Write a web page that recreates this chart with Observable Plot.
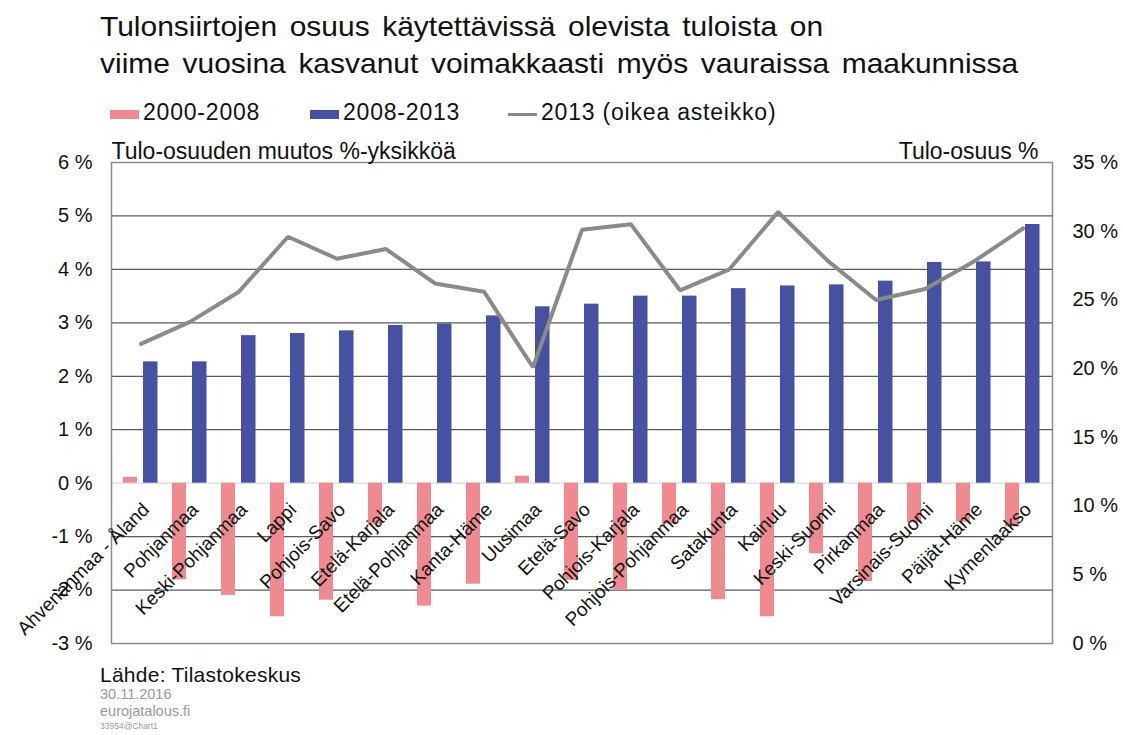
<!DOCTYPE html>
<html>
<head>
<meta charset="utf-8">
<script src="https://cdn.jsdelivr.net/npm/d3@7"></script>
<script src="https://cdn.jsdelivr.net/npm/@observablehq/plot@0.6"></script>
<style>
  body { margin: 0; background: #fff; font-family: "Liberation Sans", Arial, sans-serif; }
  #wrap { position: relative; width: 1123px; height: 735px; overflow: hidden; }
  #title { position: absolute; left: 100px; top: 8px; font-size: 28px; line-height: 37px; color: #111; word-spacing: 4px; transform: scaleX(1.07); transform-origin: 0 0; white-space: nowrap; }
  #legend { position: absolute; left: 0; top: 99px; width: 1123px; height: 34px; font-size: 23px; color: #111; }
  .li { position: absolute; top: 0; letter-spacing: 0.8px; }
  .sw { position: absolute; }
  #chart { position: absolute; left: 0; top: 135px; }
  #cap { position: absolute; left: 100px; top: 663px; }
  #cap .src { font-size: 21px; color: #111; line-height: 23px; letter-spacing: 0.25px; }
  #cap .g { font-size: 14.5px; color: #999; line-height: 17px; }
  #cap .s { font-size: 8.5px; color: #999; line-height: 12px; }
</style>
</head>
<body>
<div id="wrap">
  <div id="title">Tulonsiirtojen osuus käytettävissä olevista tuloista on<br>viime vuosina kasvanut voimakkaasti myös vauraissa maakunnissa</div>
  <div id="legend"></div>
  <div id="chart"></div>
  <div id="cap">
    <div class="src">Lähde: Tilastokeskus</div>
    <div class="g">30.11.2016</div>
    <div class="g">eurojatalous.fi</div>
    <div class="s">33954@Chart1</div>
  </div>
</div>
<script>
// Data
const regions = ["Ahvenanmaa - Åland","Pohjanmaa","Keski-Pohjanmaa","Lappi","Pohjois-Savo","Etelä-Karjala","Etelä-Pohjanmaa","Kanta-Häme","Uusimaa","Etelä-Savo","Pohjois-Karjala","Pohjois-Pohjanmaa","Satakunta","Kainuu","Keski-Suomi","Pirkanmaa","Varsinais-Suomi","Päijät-Häme","Kymenlaakso"];
const change2000_2008 = [0.11,-1.81,-2.10,-2.50,-2.19,-0.78,-2.30,-1.89,0.13,-1.82,-2.00,-0.77,-2.18,-2.50,-1.32,-1.84,-0.74,-0.73,-0.82];
const change2008_2013 = [2.27,2.27,2.76,2.80,2.85,2.95,2.98,3.13,3.30,3.35,3.50,3.50,3.64,3.69,3.71,3.78,4.13,4.14,4.84];
const share2013 = [21.8,23.4,25.6,29.6,28.0,28.7,26.2,25.6,20.1,30.1,30.5,25.7,27.2,31.4,27.9,25.0,25.8,27.8,30.2];
const leftTicks = [-3,-2,-1,0,1,2,3,4,5,6];
const rightTicks = [0,5,10,15,20,25,30,35];
const seriesNames = ["2000-2008","2008-2013","2013 (oikea asteikko)"];
const leftTitle = "Tulo-osuuden muutos %-yksikköä";
const rightTitle = "Tulo-osuus %";

const PINK = "#EF8A90", BLUE = "#4751A1", GRAY = "#8a8a8a";
const FONT = "'Liberation Sans', Arial, sans-serif";

// map right axis (0..35) onto left axis (-3..6)
const toLeft = v => -3 + v * 9 / 35;
const toRight = y => Math.round((y + 3) * 35 / 9);

const rows = regions.map((r, i) => ({r, a: change2000_2008[i], b: change2008_2013[i], s: toLeft(share2013[i])}));

// legend
const lg = document.getElementById("legend");
const legendItems = [
  {x: 110, color: PINK, kind: "box"},
  {x: 310, color: BLUE, kind: "box"},
  {x: 508, color: GRAY, kind: "line"}
];
legendItems.forEach((it, i) => {
  const sw = document.createElement("div");
  sw.className = "sw";
  sw.style.left = it.x + "px";
  sw.style.width = "29px";
  sw.style.background = it.color;
  if (it.kind === "box") { sw.style.top = "11px"; sw.style.height = "9px"; }
  else { sw.style.top = "14px"; sw.style.height = "3px"; }
  lg.appendChild(sw);
  const t = document.createElement("div");
  t.className = "li";
  t.style.left = (it.x + 33) + "px";
  t.textContent = seriesNames[i];
  lg.appendChild(t);
});

const chart = Plot.plot({
  width: 1123,
  height: 525,
  marginLeft: 111,
  marginRight: 71,
  marginTop: 27,
  marginBottom: 17,
  style: {fontFamily: FONT, fontSize: "20px", color: "#111", background: "transparent"},
  x: {domain: regions, padding: 0, axis: null},
  y: {domain: [-3, 6], axis: null},
  marks: [
    Plot.ruleY([-2,-1,1,2,3,4,5], {stroke: "#5a5a5a", strokeWidth: 1.2}),
    Plot.ruleY([0], {stroke: "#d8d8d8", strokeWidth: 1.2}),
    Plot.barY(rows, {x: "r", y: "a", fill: PINK, insetLeft: 7, insetRight: 28}),
    Plot.barY(rows, {x: "r", y: "b", fill: BLUE, insetLeft: 27, insetRight: 7.5}),
    Plot.line(rows, {x: "r", y: "s", stroke: GRAY, strokeWidth: 4, strokeLinejoin: "miter"}),
    Plot.frame({stroke: "#8a8a8a", strokeWidth: 1.5}),
    Plot.axisY({anchor: "left", ticks: leftTicks, tickSize: 0, tickPadding: 19, tickFormat: d => `${d} %`, label: null, fontSize: 20}),
    Plot.axisY({anchor: "right", ticks: rightTicks.map(toLeft), tickSize: 0, tickPadding: 20, tickFormat: d => `${toRight(d)} %`, label: null, fontSize: 20}),
    Plot.text(rows, {x: "r", y: () => 0, text: "r", rotate: -45, textAnchor: "end", lineAnchor: "top", dx: 0, dy: 18, fontSize: 19, fill: "#111"}),
    Plot.text([leftTitle], {frameAnchor: "top-left", text: d => d, textAnchor: "start", lineAnchor: "bottom", dx: 0, dy: -4, fontSize: 23, letterSpacing: 0.6, fill: "#111"}),
    Plot.text([rightTitle], {frameAnchor: "top-right", text: d => d, textAnchor: "end", lineAnchor: "bottom", dx: -14, dy: -4, fontSize: 23, letterSpacing: 0.6, fill: "#111"})
  ]
});
document.getElementById("chart").appendChild(chart);
</script>
</body>
</html>
